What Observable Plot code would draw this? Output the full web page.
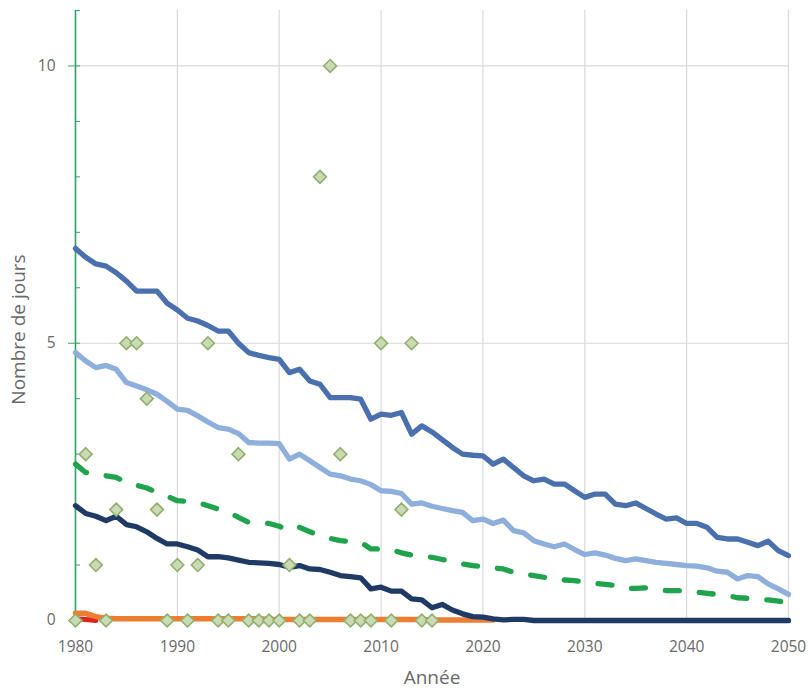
<!DOCTYPE html>
<html><head><meta charset="utf-8">
<script src="https://cdn.jsdelivr.net/npm/d3@7"></script>
<script src="https://cdn.jsdelivr.net/npm/@observablehq/plot@0.6"></script>
<style>body{margin:0;background:#fff}</style>
</head><body><div id="chart"></div>
<script>
// Years 1980..2050
const startYear = 1980;
const endYear = 2050;

// Projection series (one value per year, 1980..2050)
const seriesMidBlue = [
  6.71, 6.55, 6.43, 6.39, 6.27, 6.12, 5.94, 5.94, 5.94, 5.72,
  5.60, 5.45, 5.40, 5.32, 5.22, 5.22, 5.00, 4.83, 4.78, 4.74,
  4.71, 4.47, 4.53, 4.32, 4.26, 4.02, 4.02, 4.02, 3.99, 3.63,
  3.72, 3.70, 3.75, 3.36, 3.51, 3.40, 3.26, 3.12, 3.00, 2.98,
  2.97, 2.82, 2.91, 2.76, 2.61, 2.52, 2.55, 2.46, 2.46, 2.34,
  2.22, 2.28, 2.28, 2.10, 2.07, 2.12, 2.02, 1.92, 1.83, 1.85,
  1.75, 1.75, 1.68, 1.50, 1.47, 1.47, 1.41, 1.35, 1.43, 1.26,
  1.17
];
const seriesLightBlue = [
  4.83, 4.68, 4.56, 4.60, 4.53, 4.29, 4.23, 4.16, 4.08, 3.95,
  3.81, 3.79, 3.69, 3.58, 3.48, 3.45, 3.37, 3.21, 3.20, 3.20,
  3.19, 2.91, 3.00, 2.88, 2.76, 2.64, 2.61, 2.55, 2.52, 2.45,
  2.34, 2.33, 2.29, 2.10, 2.12, 2.06, 2.02, 1.98, 1.95, 1.80,
  1.83, 1.75, 1.81, 1.62, 1.58, 1.44, 1.38, 1.33, 1.38, 1.28,
  1.19, 1.22, 1.18, 1.12, 1.08, 1.11, 1.08, 1.05, 1.03, 1.01,
  0.99, 0.98, 0.95, 0.89, 0.87, 0.75, 0.81, 0.79, 0.66, 0.57,
  0.47
];
const seriesGreenDashed = [
  2.82, 2.67, 2.62, 2.61, 2.58, 2.49, 2.44, 2.39, 2.31, 2.24,
  2.16, 2.15, 2.13, 2.07, 2.01, 1.96, 1.86, 1.77, 1.76, 1.75,
  1.70, 1.62, 1.68, 1.60, 1.53, 1.48, 1.44, 1.42, 1.41, 1.29,
  1.29, 1.28, 1.22, 1.18, 1.16, 1.14, 1.10, 1.06, 1.02, 0.99,
  0.97, 0.95, 0.93, 0.87, 0.84, 0.81, 0.78, 0.75, 0.73, 0.72,
  0.69, 0.67, 0.65, 0.63, 0.58, 0.58, 0.59, 0.56, 0.54, 0.54,
  0.53, 0.51, 0.49, 0.47, 0.45, 0.41, 0.40, 0.39, 0.37, 0.35,
  0.32
];
const seriesNavy = [
  2.07, 1.93, 1.88, 1.80, 1.88, 1.73, 1.69, 1.60, 1.48, 1.38,
  1.38, 1.33, 1.27, 1.15, 1.15, 1.13, 1.09, 1.05, 1.04, 1.03,
  1.01, 0.96, 0.99, 0.93, 0.92, 0.87, 0.81, 0.79, 0.77, 0.57,
  0.60, 0.53, 0.53, 0.39, 0.37, 0.23, 0.29, 0.19, 0.12, 0.07,
  0.06, 0.03, 0.01, 0.02, 0.02, 0.00, 0.00, 0.00, 0.00, 0.00,
  0.00, 0.00, 0.00, 0.00, 0.00, 0.00, 0.00, 0.00, 0.00, 0.00,
  0.00, 0.00, 0.00, 0.00, 0.00, 0.00, 0.00, 0.00, 0.00, 0.00,
  0.00
];
// Short series starting in 1980
const seriesOrange = [
  0.13, 0.13, 0.07, 0.04, 0.03, 0.03, 0.03, 0.03, 0.03, 0.03,
  0.03, 0.03, 0.03, 0.03, 0.03, 0.03, 0.03, 0.03, 0.03, 0.02,
  0.02, 0.02, 0.02, 0.02, 0.02, 0.02, 0.02, 0.02, 0.02, 0.02,
  0.02, 0.02, 0.02, 0.02, 0.02, 0.01, 0.01, 0.01, 0.01, 0.01,
  0.01, 0.01
];
const seriesRed = [0.03, 0.02, 0.0];

// Observed values (diamonds), 1980..2015
const observed = [
  0, 3, 1, 0, 2, 5, 5, 4, 2, 0,
  1, 0, 1, 5, 0, 0, 3, 0, 0, 0,
  0, 1, 0, 0, 8, 10, 3, 0, 0, 0,
  5, 0, 2, 5, 0, 0
];

// Axis ticks
const xTicks = [1980, 1990, 2000, 2010, 2020, 2030, 2040, 2050];
const yTicks = [0, 5, 10];
const yMinorTicks = [0, 1, 2, 3, 4, 5, 6, 7, 8, 9, 10, 11];
const yTitle = "Nombre de jours";
const xTitle = "Année";

const rows = (vals) => vals.map((v, i) => ({year: startYear + i, value: v}));

const green = "#2fa566";
const textColor = "#6a6a6a";

const chart = Plot.plot({
  width: 810,
  height: 693,
  marginLeft: 75,
  marginRight: 22,
  marginTop: 10,
  marginBottom: 73,
  style: {fontFamily: "Open Sans", fontSize: "15px", color: textColor, background: "#fff"},
  x: {domain: [startYear, endYear]},
  y: {domain: [0, 11]},
  marks: [
    Plot.ruleY(yTicks, {stroke: "#d9d9d9", strokeWidth: 1.2}),
    Plot.ruleX(xTicks, {stroke: "#d9d9d9", strokeWidth: 1.2}),
    Plot.ruleX([startYear], {stroke: green, strokeWidth: 1.6}),
    Plot.axisY(yMinorTicks, {tickSize: -5, stroke: green, tickFormat: () => "", label: null}),
    Plot.axisY(yTicks, {tickSize: 7, tickPadding: 13, stroke: green, color: textColor, fontSize: 15.5, tickFormat: d => String(d), label: null}),
    Plot.axisX(xTicks, {tickSize: 0, tickPadding: 20, tickFormat: d => String(d), color: textColor, fontSize: 15.5, label: null}),
    Plot.line(rows(seriesMidBlue), {x: "year", y: "value", stroke: "#4a70ad", strokeWidth: 5.3, strokeLinejoin: "round", strokeLinecap: "round"}),
    Plot.line(rows(seriesLightBlue), {x: "year", y: "value", stroke: "#8eaedc", strokeWidth: 5.3, strokeLinejoin: "round", strokeLinecap: "round"}),
    Plot.line(rows(seriesGreenDashed), {x: "year", y: "value", stroke: "#1fa34c", strokeWidth: 5.3, strokeDasharray: "14,20", strokeLinejoin: "round", strokeLinecap: "round"}),
    Plot.line(rows(seriesRed), {x: "year", y: "value", stroke: "#e3221b", strokeWidth: 5, strokeLinejoin: "round"}),
    Plot.line(rows(seriesOrange), {x: "year", y: "value", stroke: "#ed7d31", strokeWidth: 5.5, strokeLinejoin: "round"}),
    Plot.line(rows(seriesNavy), {x: "year", y: "value", stroke: "#203a66", strokeWidth: 5.3, strokeLinejoin: "round", strokeLinecap: "round"}),
    Plot.dot(rows(observed), {x: "year", y: "value", symbol: "diamond2", r: 5.8, fill: "#c9dab5", stroke: "#90b06c", strokeWidth: 1.6}),
    Plot.text([yTitle], {text: d => d, frameAnchor: "left", textAnchor: "middle", rotate: -90, dx: -57, dy: 14, fontSize: 19, fill: textColor}),
    Plot.text([xTitle], {text: d => d, frameAnchor: "bottom", textAnchor: "middle", dy: 63, fontSize: 19, fill: textColor})
  ]
});
document.getElementById("chart").appendChild(chart);
</script>
</body></html>
